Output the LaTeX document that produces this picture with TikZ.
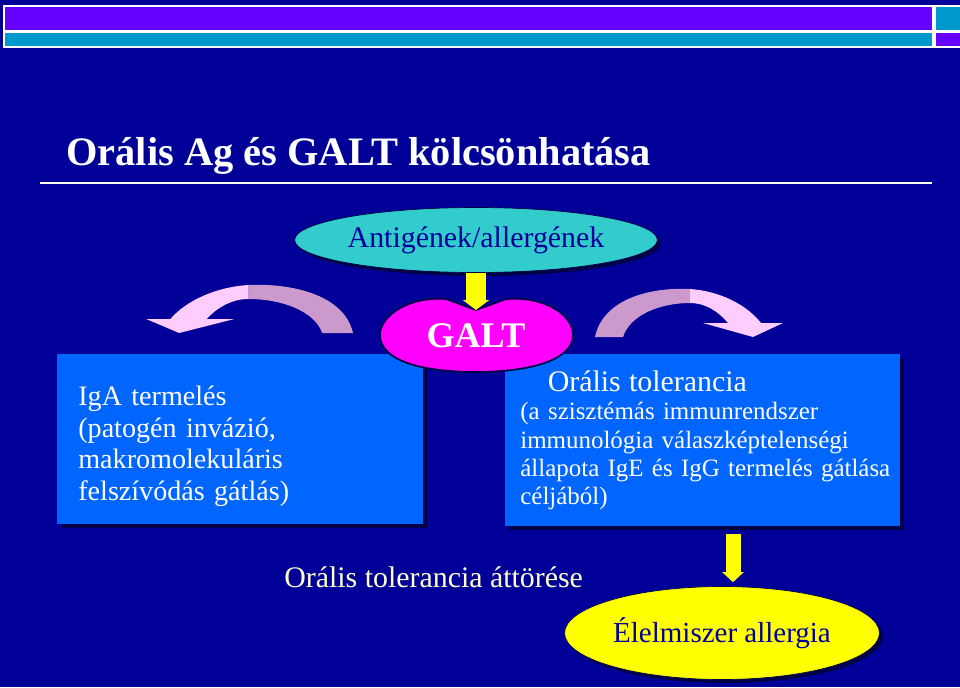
\documentclass[tikz,border=0pt]{standalone}
\usepackage{fontspec}
\setmainfont{Liberation Serif}
\usetikzlibrary{arrows.meta,shapes.geometric,shadows,positioning}

\definecolor{slidenavy}{RGB}{0,0,153}
\definecolor{shadenavy}{RGB}{0,0,70}
\definecolor{barpurple}{RGB}{102,0,255}
\definecolor{barcyan}{RGB}{0,153,204}
\definecolor{boxblue}{RGB}{0,102,255}
\definecolor{agcyan}{RGB}{51,204,204}
\definecolor{galtpink}{RGB}{255,0,255}
\definecolor{arrowyellow}{RGB}{255,255,0}
\definecolor{bendmauve}{RGB}{204,153,204}
\definecolor{bendpink}{RGB}{255,204,255}
\definecolor{paleyellow}{RGB}{255,255,204}

\tikzset{
  shadowed/.style={drop shadow={shadow xshift=0.07cm, shadow yshift=-0.07cm, fill=shadenavy, opacity=1}},
  infobox/.style={rectangle, fill=boxblue, shadowed, text=white, align=left, anchor=north west},
  bubble/.style={ellipse, draw=shadenavy, shadowed, inner sep=0pt},
  blockarrow/.style={draw=arrowyellow, -{Triangle[width=#1, length=0.2cm]}},
  bar/.style={draw=white, line width=1pt},
  pics/bendarrow/.style={code={
    \fill[bendmauve] (0,0) .. controls (8,-38) and (55,-50) .. (95,-48) -- (95,-34)
      .. controls (65,-34) and (35,-22) .. (28,0) -- cycle;
    \fill[bendpink] (95,-48) .. controls (125,-46) and (152,-32) .. (166,-14) -- (188,-14)
      -- (158,0) -- (108,-14) -- (133,-14) .. controls (123,-26) and (110,-34) .. (95,-34) -- cycle;
  }}
}

\begin{document}
\begin{tikzpicture}[x=0.02cm, y=-0.02cm]
    \fill[slidenavy] (0,0) rectangle (960,687);
    \useasboundingbox (0,0) rectangle (960,687);

    % header bars
    \filldraw[bar, fill=barpurple] (4,6) rectangle (933,31);
    \filldraw[bar, fill=barcyan] (4,32) rectangle (933,47);
    \filldraw[bar, fill=barcyan] (935,6) rectangle (962,31);
    \filldraw[bar, fill=barpurple] (935,32) rectangle (962,47);

    \node[anchor=base west, inner sep=0, text=white, font=\bfseries\fontsize{23}{27}\selectfont] (title) at (66,165) {Orális Ag és GALT kölcsönhatása};
    \draw[white, line width=1pt] (40,183) -- (932,183);

    % bent arrows
    \pic[xscale=-1.1] at (353,333) {bendarrow};
    \pic at (595,337) {bendarrow};

    \node[infobox, minimum width=7.32cm, minimum height=3.4cm, inner xsep=0.42cm, text width=6.48cm,
      font=\fontsize{16}{18}\selectfont] (iga) at (57,354)
      {\rule{0pt}{19pt}IgA termelés\\(patogén invázió,\\makromolekuláris\\felszívódás gátlás)};
    \node[infobox, minimum width=7.9cm, minimum height=3.44cm, inner xsep=0.3cm, text width=7.3cm,
      font=\fontsize{14.2}{16}\selectfont] (tolerance) at (505,354)
      {{\fontsize{17}{20}\selectfont\hspace*{0.55cm}Orális tolerancia}\\(a szisztémás immunrendszer\\immunológia válaszképtelenségi\\\mbox{állapota IgE és IgG termelés gátlása}\\céljából)};

    % GALT
    \coordinate (notch) at (476,310);
    \filldraw[fill=galtpink, draw=shadenavy, line width=1pt] (notch) -- (506,299)
      .. controls (545,296) and (573,315) .. (573,335)
      .. controls (573,360) and (530,372) .. (476,372)
      .. controls (420,372) and (380,360) .. (380,335)
      .. controls (380,315) and (410,296) .. (446,299) -- cycle;
    \node[text=white, font=\bfseries\fontsize{20.5}{24}\selectfont] (galt) at (476,336) {GALT};

    \node[bubble, fill=agcyan, minimum width=6.34cm, minimum height=1.3cm, text=slidenavy,
      font=\fontsize{17}{20}\selectfont] (antigen) at (476,240) {Antigének/allergének};
    \draw[blockarrow=0.52cm, line width=0.4cm] (antigen.south) -- (notch);

    \node[anchor=base west, inner sep=0, text=paleyellow, font=\fontsize{17}{20}\selectfont] (breach) at (284,587) {Orális tolerancia áttörése};

    \node[bubble, fill=arrowyellow, minimum width=6.3cm, minimum height=1.86cm, text=slidenavy,
      font=\fontsize{16.5}{20}\selectfont] (allergy) at (722,633) {Élelmiszer allergia};
    \draw[blockarrow=0.42cm, line width=0.3cm, shorten <=0.14cm] ([xshift=0.22cm]allergy.north |- tolerance.south) -- ([xshift=0.22cm, yshift=0.08cm]allergy.north);
\end{tikzpicture}
\end{document}
